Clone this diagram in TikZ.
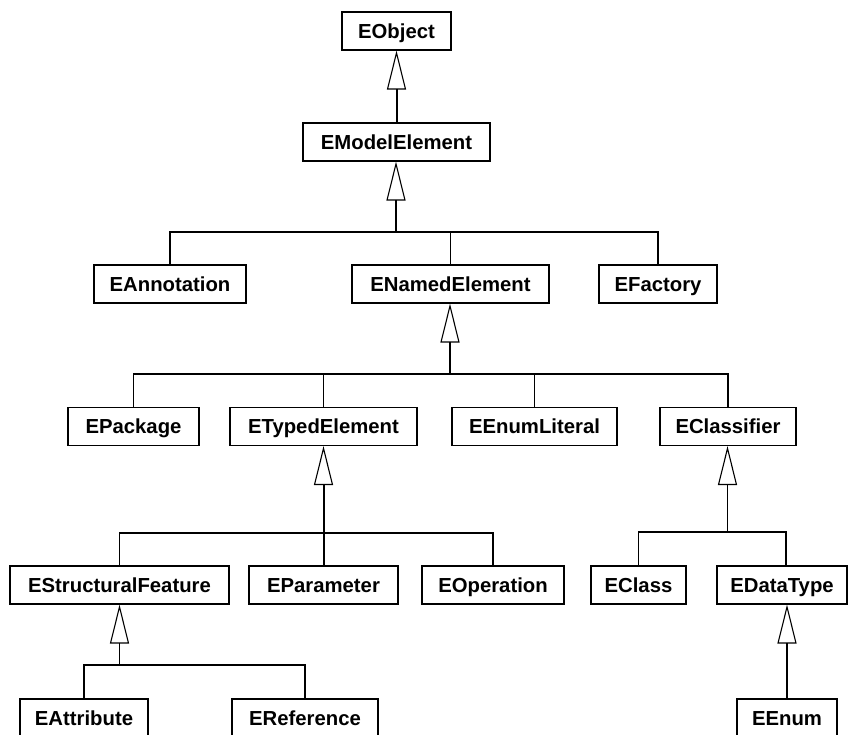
\documentclass[tikz,border=0pt]{standalone}
\usepackage{fontspec}
\setmainfont{Liberation Sans}
\usetikzlibrary{arrows.meta}

\begin{document}
\begin{tikzpicture}[x=1pt, y=-1pt]
            \tikzstyle{cls} = [draw, line width=1.1pt, fill=white, inner sep=0pt, minimum height=38pt, text height=14.5pt, text depth=0pt, font=\fontsize{20.3pt}{24pt}\selectfont\bfseries]
            \tikzstyle{link} = [line width=1.1pt]
            \tikzstyle{inherit} = [line width=1.1pt, -{Triangle[open, length=39pt, width=19pt, line width=1.1pt]}]
            \tikzstyle{direct} = [inherit, line width=2pt]

            \useasboundingbox (0,0) rectangle (848,735);

            % Level 1
            \node[cls, minimum width=109pt] (EObject) at (396.5,31) {EObject};
            \node[cls, minimum width=187pt] (EModelElement) at (396.5,142) {EModelElement};

            % Level 2
            \node[cls, minimum width=152pt] (EAnnotation) at (170,284) {EAnnotation};
            \node[cls, minimum width=197pt] (ENamedElement) at (450.5,284) {ENamedElement};
            \node[cls, minimum width=118pt] (EFactory) at (658,284) {EFactory};

            % Level 3
            \node[cls, minimum width=131pt] (EPackage) at (133.5,426.5) {EPackage};
            \node[cls, minimum width=187pt] (ETypedElement) at (323.5,426.5) {ETypedElement};
            \node[cls, minimum width=165pt] (EEnumLiteral) at (534.5,426.5) {EEnumLiteral};
            \node[cls, minimum width=136pt] (EClassifier) at (728,426.5) {EClassifier};

            % Level 4
            \node[cls, minimum width=219pt] (EStructuralFeature) at (119.5,585) {EStructuralFeature};
            \node[cls, minimum width=149pt] (EParameter) at (323.5,585) {EParameter};
            \node[cls, minimum width=142pt] (EOperation) at (493,585) {EOperation};
            \node[cls, minimum width=95pt] (EClass) at (638.5,585) {EClass};
            \node[cls, minimum width=130pt] (EDataType) at (782,585) {EDataType};

            % Level 5
            \node[cls, minimum width=128pt] (EAttribute) at (84,718) {EAttribute};
            \node[cls, minimum width=146pt] (EReference) at (305,718) {EReference};
            \node[cls, minimum width=100pt] (EEnum) at (787,718) {EEnum};

            % Junctions
            \coordinate (j1) at (396,232);
            \coordinate (j2) at (450,374);
            \coordinate (j3) at (324,533);
            \coordinate (j4) at (727.5,532);
            \coordinate (j5) at (119.5,665);
            \coordinate (j6) at (786,532);

            % Bars
            \draw[link] (EAnnotation.north) |- (j1) -| (EFactory.north);
            \draw[link] (j1) -| (ENamedElement.north);
            \draw[link] (EPackage.north) |- (j2) -| (EClassifier.north);
            \draw[link] (ETypedElement.north) |- (j2) -| (EEnumLiteral.north);
            \draw[link] (EStructuralFeature.north) |- (j3) -| (EOperation.north);
            \draw[link] (EClass.north) |- (j4) -- (j6) -- (j6 |- EDataType.north);
            \draw[link] (EAttribute.north) |- (j5) -| (EReference.north);

            % Arrows
            \draw[direct] (EModelElement) -- (EObject);
            \draw[inherit] (j1) -- (j1 |- EModelElement.south);
            \draw[inherit] (j2) -- (j2 |- ENamedElement.south);
            \draw[direct] (EParameter) -- (ETypedElement);
            \draw[inherit] (j4) -- (j4 |- EClassifier.south);
            \draw[inherit] (j5) -- (j5 |- EStructuralFeature.south);
            \draw[direct] (EEnum.north) -- (EEnum |- EDataType.south);
        \end{tikzpicture}
\end{document}
